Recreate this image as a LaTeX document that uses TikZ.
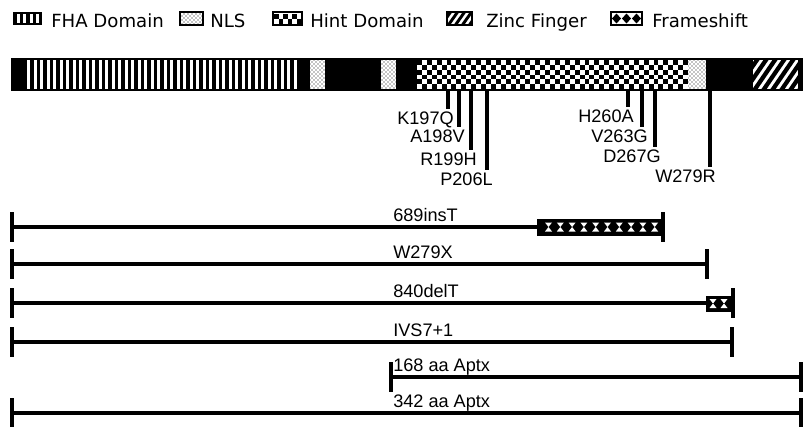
\documentclass[tikz,border=0pt]{standalone}
\usepackage{fontspec}
\setmainfont{Liberation Sans}
\newfontfamily\legendfont{DejaVu Sans}
\usetikzlibrary{positioning, patterns}

\begin{document}
\begin{tikzpicture}[x=0.75pt, y=-0.75pt,
    lbl/.style={inner sep=0pt, font=\fontsize{13.6}{15}\selectfont},
    legtxt/.style={inner sep=0pt, anchor=base west, font=\legendfont\fontsize{13.6}{16}\selectfont},
    mut/.style={line width=2.5pt},
    prot/.style={line width=2.8pt},
    endtick/.style={line width=3pt},
    nls/.style={fill=white, postaction={pattern=crosshatch dots}},
    iconbox/.style={draw=black, line width=1.4pt}]
  \useasboundingbox (0,0) rectangle (803,426);

  \fill (13,12) rectangle (42,25);
  \foreach \k in {0,...,3} \fill[white] ({17+6.3*\k},14) rectangle ++(3,9);
  \node[legtxt] (legFHA) at (51,27) {FHA Domain};
  \path[nls] (180,12) rectangle (203,25);
  \draw[iconbox] (180,12) rectangle (203,25);
  \node[legtxt] (legNLS) at (210,27) {NLS};
  \fill[white] (273,12) rectangle (302,25);
  \foreach \c in {0,...,5} \fill ({274+4.5*\c},{13.5+5*mod(\c,2)}) rectangle ++(4.5,5);
  \draw[iconbox] (273,12) rectangle (302,25);
  \node[legtxt] (legHint) at (310,27) {Hint Domain};
  \begin{scope}
    \clip (447,12) rectangle (472,25);
    \foreach \k in {0,...,4} \draw[line width=2.2pt] ({440+7*\k},27) -- ++(12,-17);
  \end{scope}
  \draw[iconbox] (447,12) rectangle (472,25);
  \node[legtxt] (legZinc) at (486,27) {Zinc Finger};
  \foreach \k in {0,...,2} \fill ({616.5+10*\k},13.5) -- ++(4.5,5) -- ++(-4.5,5) -- ++(-4.5,-5) -- cycle;
  \draw[iconbox] (611,12) rectangle (642,25);
  \node[legtxt] (legFS) at (652,27) {Frameshift};

  \fill (11,58) rectangle (803,91);
  \foreach \i in {0,...,41} \fill[white] ({27+6.51*\i},60) rectangle ++(3,29);
  \foreach \a/\b in {310/325, 381/396, 688/706} \path[nls] (\a,60) rectangle (\b,89);
  \fill[white] (417,60) rectangle (688,89);
  \foreach \c in {0,...,54} \foreach \r in {0,2,4}
    \fill ({417+4.927*\c},{60+4.833*(\r+mod(\c,2))}) rectangle ++(4.927,4.833);
  \begin{scope}
    \clip (753,60) rectangle (798,89);
    \fill[white] (753,60) rectangle (798,89);
    \foreach \k in {0,...,7} \draw[line width=3.2pt] ({735+9*\k},92) -- ++(24,-35);
  \end{scope}

  \foreach \x/\yb/\m in {448/109/K197Q, 459/127/A198V, 471/150/R199H, 487/170/P206L,
                         628/107/H260A, 642/127/V263G, 655/147/D267G, 710/167/W279R} {
    \coordinate (top-\m) at (\x,90);
    \coordinate (bot-\m) at (\x,\yb);
    \draw[mut] (top-\m) -- (bot-\m);
    \node[lbl, anchor=north east] (lab-\m) at (\x+6,\yb+3) {\m};
  }

  \foreach \y/\xa/\xb/\txt/\n in {227/12/663/689insT/1, 264/12/707/W279X/2,
                                  303/12/733/840delT/3, 342/12/732/IVS7+1/4,
                                  377/391/801/168 aa Aptx/5, 413/12/801/342 aa Aptx/6} {
    \coordinate (start\n) at (\xa,\y);
    \coordinate (end\n) at (\xb,\y);
    \draw[prot] (start\n) -- (end\n);
    \draw[endtick] ([yshift=11pt]start\n) -- ([yshift=-11pt]start\n);
    \draw[endtick] ([yshift=11pt]end\n) -- ([yshift=-11pt]end\n);
    \node[lbl, anchor=base west] (name\n) at (393,\y-6) {\txt};
  }

  \fill (537,218.5) rectangle (663,235.5);
  \foreach \k in {0,...,9} {
    \fill[white] ({545+11.8*\k},222.5) -- ++(7,0) -- ++(-3.5,4.5) -- cycle;
    \fill[white] ({545+11.8*\k},231.5) -- ++(7,0) -- ++(-3.5,-4.5) -- cycle;
  }
  \fill (706,295.5) rectangle (733,311.5);
  \foreach \k in {0,1} {
    \fill[white] ({709.5+11*\k},299) -- ++(7,0) -- ++(-3.5,4.5) -- cycle;
    \fill[white] ({709.5+11*\k},308) -- ++(7,0) -- ++(-3.5,-4.5) -- cycle;
  }
\end{tikzpicture}
\end{document}
